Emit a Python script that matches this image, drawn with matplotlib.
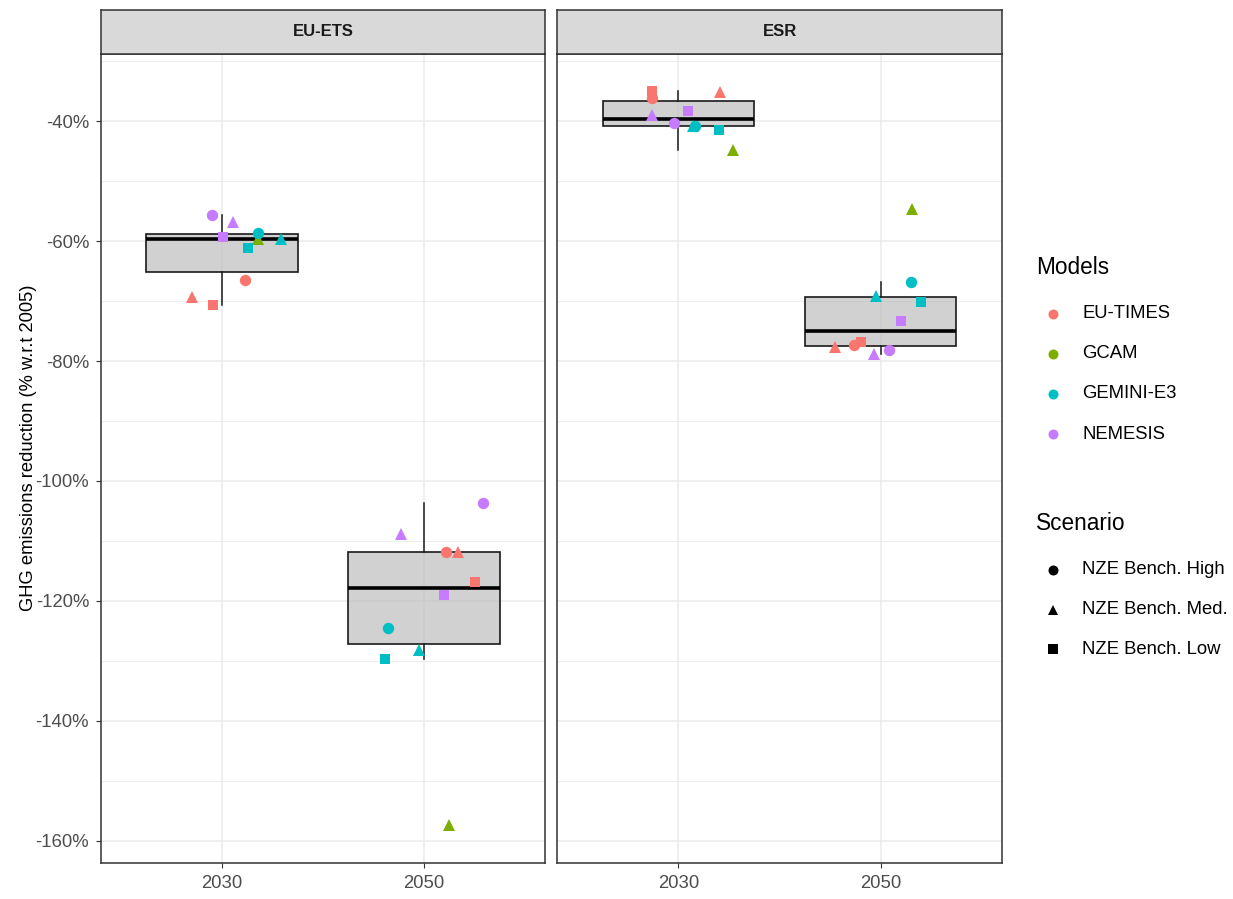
import matplotlib
matplotlib.use("Agg")
import matplotlib.pyplot as plt
from matplotlib.lines import Line2D
from matplotlib.ticker import MultipleLocator, FuncFormatter

plt.rcParams['font.family'] = ['Liberation Sans', 'DejaVu Sans']

# --- data ---
models = ["EU-TIMES", "GCAM", "GEMINI-E3", "NEMESIS"]
model_colors = ["#F8766D", "#7CAE00", "#00BFC4", "#C77CFF"]
scenarios = ["NZE Bench. High", "NZE Bench. Med.", "NZE Bench. Low"]
scenario_markers = ["o", "^", "s"]
marker_sizes = {"o": 8.2, "^": 8.7, "s": 7.5}

panels = ["EU-ETS", "ESR"]
years = ["2030", "2050"]

# one entry per point (model index, scenario index)
point_model = [0, 0, 0, 1, 2, 2, 2, 3, 3, 3]
point_scen = [0, 1, 2, 1, 0, 1, 2, 0, 1, 2]

# GHG reduction (%) per point
ets_2030 = [-66.5, -69.3, -70.6, -59.6, -58.7, -59.7, -61.1, -55.7, -56.9, -59.4]
ets_2050 = [-111.8, -111.8, -116.8, -157.3, -124.5, -128.1, -129.7, -103.6, -108.9, -119.0]
esr_2030 = [-36.1, -35.1, -35.0, -44.8, -40.8, -40.8, -41.5, -40.3, -39.0, -38.4]
esr_2050 = [-77.4, -77.6, -76.8, -54.7, -66.9, -69.1, -70.2, -78.1, -78.8, -73.3]

# horizontal jitter (category units)
jit_ets_2030 = [0.114, -0.15, -0.046, 0.177, 0.18, 0.29, 0.13, -0.05, 0.056, 0.003]
jit_ets_2050 = [0.109, 0.17, 0.252, 0.124, -0.18, -0.025, -0.193, 0.294, -0.114, 0.10]
jit_esr_2030 = [-0.13, 0.204, -0.13, 0.27, 0.084, 0.074, 0.2, -0.023, -0.13, 0.046]
jit_esr_2050 = [-0.132, -0.226, -0.099, 0.157, 0.152, -0.025, 0.198, 0.041, -0.033, 0.099]

values = {"EU-ETS": [ets_2030, ets_2050], "ESR": [esr_2030, esr_2050]}
jitters = {"EU-ETS": [jit_ets_2030, jit_ets_2050], "ESR": [jit_esr_2030, jit_esr_2050]}

W, H = 1233, 899
fig = plt.figure(figsize=(W / 100, H / 100), dpi=100)

panel_px = [(101, 545), (557, 1002)]
top_px, bot_px, strip_top_px = 54, 863, 10

grey20 = "#333333"
grey30 = "#4D4D4D"

for k, name in enumerate(panels):
    x0, x1 = panel_px[k]
    ax = fig.add_axes([x0 / W, 1 - bot_px / H, (x1 - x0) / W, (bot_px - top_px) / H])

    bp = ax.boxplot(values[name], positions=[1, 2], widths=0.75, whis=1.5,
                    showfliers=False, showcaps=False, patch_artist=True,
                    boxprops=dict(facecolor=(0.745, 0.745, 0.745, 0.7),
                                  edgecolor="#1A1A1A", linewidth=1.2),
                    medianprops=dict(color="black", linewidth=2.6),
                    whiskerprops=dict(color="#1A1A1A", linewidth=1.1),
                    zorder=2)

    for j in range(2):
        vals = values[name][j]
        jit = jitters[name][j]
        for i in range(len(vals)):
            m = scenario_markers[point_scen[i]]
            ax.plot(j + 1 + jit[i], vals[i], ls="none", marker=m,
                    ms=marker_sizes[m], mew=0,
                    color=model_colors[point_model[i]], zorder=3)

    ax.set_xlim(0.4, 2.6)
    ax.set_ylim(-163.67, -28.83)
    ax.yaxis.set_major_locator(MultipleLocator(20))
    ax.yaxis.set_minor_locator(MultipleLocator(10))
    ax.yaxis.set_major_formatter(FuncFormatter(lambda v, p: f"{v:.0f}%"))
    ax.set_xticks([1, 2])
    ax.set_xticklabels(years)
    ax.grid(which="major", color="#EBEBEB", lw=1.1, zorder=0)
    ax.grid(which="minor", axis="y", color="#EBEBEB", lw=0.6, zorder=0)
    ax.set_axisbelow(True)
    for sp in ax.spines.values():
        sp.set_color(grey20)
        sp.set_linewidth(1.1)
    ax.tick_params(which="major", length=3.6, width=0.8, color=grey20,
                   labelcolor=grey30, labelsize=13.3, pad=5)
    ax.tick_params(which="minor", length=0)
    if k > 0:
        ax.tick_params(axis="y", which="both", left=False, labelleft=False)

    # facet strip
    sax = fig.add_axes([x0 / W, 1 - top_px / H, (x1 - x0) / W, (top_px - strip_top_px) / H])
    sax.set_facecolor("#D9D9D9")
    sax.set_xticks([])
    sax.set_yticks([])
    for sp in sax.spines.values():
        sp.set_color(grey20)
        sp.set_linewidth(1.1)
    sax.text(0.5, 0.5, name, ha="center", va="center", fontsize=12,
             fontweight="bold", color="#1A1A1A", transform=sax.transAxes)

fig.text(28.8 / W, 1 - 448 / H, "GHG emissions reduction (% w.r.t 2005)",
         rotation=90, ha="center", va="center", fontsize=13.2, color="black")

# legends
def add_key(y_px, label, marker, color):
    fig.add_artist(Line2D([1053 / W], [1 - y_px / H], marker=marker, ls="none",
                          ms=7.2, mew=0, color=color, transform=fig.transFigure))
    fig.text(1082 / W, 1 - y_px / H, label, ha="left", va="center",
             fontsize=13.3, color="black")

fig.text(1036 / W, 1 - 268 / H, "Models", ha="left", va="center", fontsize=16.3)
for i, mdl in enumerate(models):
    add_key(314 + 40 * i, mdl, "o", model_colors[i])

fig.text(1036 / W, 1 - 523 / H, "Scenario", ha="left", va="center", fontsize=16.3)
for i, sc in enumerate(scenarios):
    add_key(570 + 39.5 * i, sc, scenario_markers[i], "black")

fig.savefig("out.png", dpi=100)
